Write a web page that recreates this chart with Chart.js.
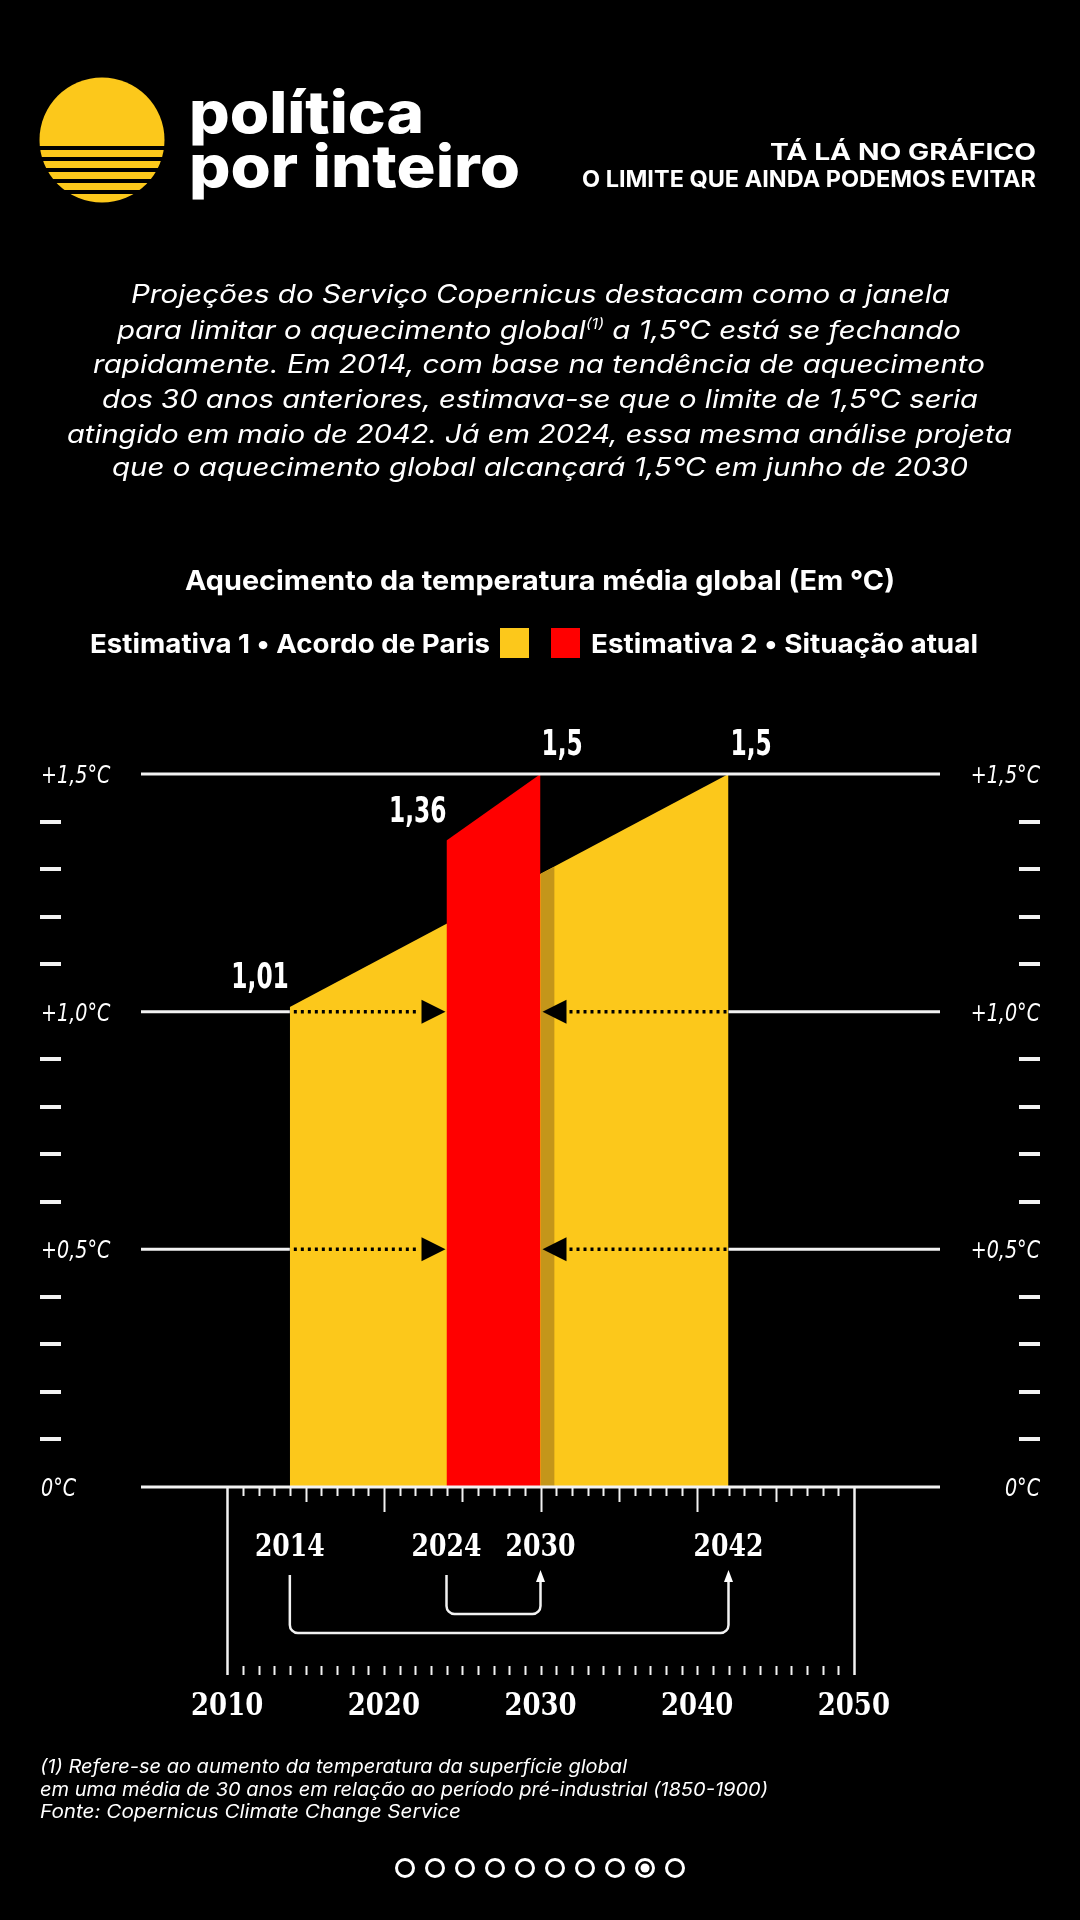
<!DOCTYPE html>
<html lang="pt-BR">
<head>
<meta charset="utf-8">
<title>O limite que ainda podemos evitar</title>
<script src="https://cdn.jsdelivr.net/npm/chart.js@4.4.1/dist/chart.umd.min.js"></script>
<style>
  html, body { margin: 0; padding: 0; background: #000; }
  body { width: 1080px; height: 1920px; position: relative; overflow: hidden; }
  #chart { position: absolute; left: 0; top: 0; }
  #overlay { position: absolute; left: 0; top: 0; pointer-events: none; }
  #overlay text { fill: #fff; font-family: Inter, "Noto Sans", sans-serif; }
</style>
</head>
<body>
<canvas id="chart" width="1080" height="1920"></canvas>

<svg id="overlay" width="1080" height="1920" viewBox="0 0 1080 1920">
  <!-- logo -->
  <defs>
    <clipPath id="sun"><circle cx="102" cy="140" r="62.5"/></clipPath>
  </defs>
  <g clip-path="url(#sun)" fill="#FCC81B">
    <rect x="38" y="76" width="130" height="70"/>
    <rect x="38" y="150" width="130" height="7"/>
    <rect x="38" y="161" width="130" height="7"/>
    <rect x="38" y="172" width="130" height="7"/>
    <rect x="38" y="183" width="130" height="7"/>
    <rect x="38" y="194" width="130" height="10"/>
  </g>
  <text x="189" y="133" font-size="58" font-weight="800" textLength="235" lengthAdjust="spacingAndGlyphs">política</text>
  <text x="189" y="187" font-size="58" font-weight="800" textLength="331" lengthAdjust="spacingAndGlyphs">por inteiro</text>

  <text x="770" y="160" font-size="23" font-weight="700" textLength="266" lengthAdjust="spacingAndGlyphs">TÁ LÁ NO GRÁFICO</text>
  <text x="582" y="187" font-size="23" font-weight="700" textLength="454" lengthAdjust="spacingAndGlyphs">O LIMITE QUE AINDA PODEMOS EVITAR</text>

  <!-- intro -->
  <g font-size="25.5" font-style="italic">
    <text x="131" y="303" textLength="819" lengthAdjust="spacingAndGlyphs">Projeções do Serviço Copernicus destacam como a janela</text>
    <text x="117" y="339" textLength="844" lengthAdjust="spacingAndGlyphs">para limitar o aquecimento global<tspan font-size="14" dy="-10">(1)</tspan><tspan dy="10"> a 1,5°C está se fechando</tspan></text>
    <text x="93" y="373" textLength="892" lengthAdjust="spacingAndGlyphs">rapidamente. Em 2014, com base na tendência de aquecimento</text>
    <text x="102" y="408" textLength="876" lengthAdjust="spacingAndGlyphs">dos 30 anos anteriores, estimava-se que o limite de 1,5°C seria</text>
    <text x="67" y="443" textLength="945" lengthAdjust="spacingAndGlyphs">atingido em maio de 2042. Já em 2024, essa mesma análise projeta</text>
    <text x="112" y="476" textLength="856" lengthAdjust="spacingAndGlyphs">que o aquecimento global alcançará 1,5°C em junho de 2030</text>
  </g>

  <!-- footnote -->
  <g font-size="18.5" font-style="italic">
    <text x="40" y="1773" textLength="587" lengthAdjust="spacingAndGlyphs">(1) Refere-se ao aumento da temperatura da superfície global</text>
    <text x="40" y="1796" textLength="728" lengthAdjust="spacingAndGlyphs">em uma média de 30 anos em relação ao período pré-industrial (1850-1900)</text>
    <text x="40" y="1818" textLength="421" lengthAdjust="spacingAndGlyphs">Fonte: Copernicus Climate Change Service</text>
  </g>

  <!-- page dots -->
  <g id="dots" fill="none" stroke="#fff" stroke-width="3"></g>
</svg>

<script>
// chart values
const est1Years = [2014, 2042];
const est1Values = [1.01, 1.5];
const est2Years = [2024, 2030];
const est2Values = [1.36, 1.5];
// darker edge of the yellow area right after 2030
const shadeYears = [2030, 2030.9];
const shadeValues = [1.29, 1.305];

const est1Label = 'Estimativa 1 • Acordo de Paris';
const est2Label = 'Estimativa 2 • Situação atual';
const chartTitle = 'Aquecimento da temperatura média global (Em °C)';

const yTicks = [0, 0.5, 1.0, 1.5];
const yTickLabels = ['0°C', '+0,5°C', '+1,0°C', '+1,5°C'];
const arrowLevels = [0.5, 1.0];
const axisYears = [2010, 2020, 2030, 2040, 2050];
const markedYears = [2014, 2024, 2030, 2042];
const valueLabels = ['1,01', '1,36', '1,5', '1,5'];

const YELLOW = '#FCC81B';
const RED = '#FF0000';
const SHADE = '#C4961A';
const WHITE = '#F2F2F2';

const NARROW = '"Liberation Sans Narrow", "DejaVu Sans Condensed", sans-serif';
const SLAB = '"DejaVu Serif Condensed", "DejaVu Serif", serif';

// page indicator
const dotsG = document.getElementById('dots');
for (let i = 0; i < 10; i++) {
  const c = document.createElementNS('http://www.w3.org/2000/svg', 'circle');
  c.setAttribute('cx', 405 + i * 30);
  c.setAttribute('cy', 1868);
  c.setAttribute('r', 8.5);
  dotsG.appendChild(c);
  if (i === 8) {
    const f = document.createElementNS('http://www.w3.org/2000/svg', 'circle');
    f.setAttribute('cx', 405 + i * 30);
    f.setAttribute('cy', 1868);
    f.setAttribute('r', 4.5);
    f.setAttribute('fill', '#fff');
    f.setAttribute('stroke', 'none');
    dotsG.appendChild(f);
  }
}

const pts = (xs, ys) => xs.map((x, i) => ({ x: x, y: ys[i] }));

// draw text squeezed horizontally by sx
function squeezeText(ctx, text, x, y, align, sx) {
  const w = ctx.measureText(text).width * sx;
  const left = align === 'left' ? x : (align === 'right' ? x - w : x - w / 2);
  ctx.save();
  ctx.translate(left, y);
  ctx.scale(sx, 1);
  ctx.textAlign = 'left';
  ctx.fillText(text, 0, 0);
  ctx.restore();
  return w;
}

const decor = {
  id: 'decor',
  afterDatasetsDraw(chart) {
    const { ctx, chartArea: a, scales: { x, y } } = chart;
    const X = v => x.getPixelForValue(v);
    const Y = v => y.getPixelForValue(v);
    ctx.save();

    // horizontal reference lines
    ctx.strokeStyle = WHITE;
    ctx.lineWidth = 3;
    yTicks.forEach(v => {
      const py = Y(v);
      ctx.beginPath();
      if (arrowLevels.includes(v)) {
        ctx.moveTo(a.left, py); ctx.lineTo(X(est1Years[0]), py);
        ctx.moveTo(X(est1Years[1]), py); ctx.lineTo(a.right, py);
      } else {
        ctx.moveTo(a.left, py); ctx.lineTo(a.right, py);
      }
      ctx.stroke();
    });

    // dotted arrows inside the yellow area
    arrowLevels.forEach(v => {
      const py = Y(v);
      const xa = X(est1Years[0]), xb = X(est2Years[0]);
      const xc = X(est2Years[1]), xd = X(est1Years[1]);
      ctx.strokeStyle = '#000';
      ctx.lineWidth = 3.5;
      ctx.setLineDash([3, 4]);
      ctx.beginPath();
      ctx.moveTo(xa + 4, py); ctx.lineTo(xb - 27, py);
      ctx.moveTo(xc + 29, py); ctx.lineTo(xd - 1, py);
      ctx.stroke();
      ctx.setLineDash([]);
      ctx.fillStyle = '#000';
      ctx.beginPath();
      ctx.moveTo(xb - 1, py); ctx.lineTo(xb - 25, py - 12); ctx.lineTo(xb - 25, py + 12);
      ctx.closePath(); ctx.fill();
      ctx.beginPath();
      ctx.moveTo(xc + 2, py); ctx.lineTo(xc + 26, py - 12); ctx.lineTo(xc + 26, py + 12);
      ctx.closePath(); ctx.fill();
    });

    // minor dashes on both sides
    ctx.fillStyle = WHITE;
    for (let i = 1; i < 15; i++) {
      if (i % 5 === 0) continue;
      const py = Math.round(Y(i / 10));
      ctx.fillRect(40, py - 2, 21, 4);
      ctx.fillRect(1019, py - 2, 21, 4);
    }

    // y labels
    ctx.fillStyle = '#fff';
    ctx.font = 'italic 25px ' + NARROW;
    ctx.textBaseline = 'alphabetic';
    yTicks.forEach((v, i) => {
      const py = Y(v) + 9;
      squeezeText(ctx, yTickLabels[i], 41, py, 'left', 0.85);
      squeezeText(ctx, yTickLabels[i], 1040, py, 'right', 0.85);
    });

    // value labels
    ctx.font = 'bold 35px ' + NARROW;
    const labelPts = [
      [est1Years[0], est1Values[0], 'right', -1],
      [est2Years[0], est2Values[0], 'right', 0],
      [est2Years[1], est2Values[1], 'left', 1],
      [est1Years[1], est1Values[1], 'left', 2]
    ];
    labelPts.forEach((p, i) => {
      squeezeText(ctx, valueLabels[i], X(p[0]) + p[3], Y(p[1]) - 19, p[2], 0.74);
    });

    // year ruler
    const base = Y(0);
    ctx.strokeStyle = WHITE;
    ctx.lineWidth = 2;
    for (let yr = axisYears[0] + 1; yr < axisYears[axisYears.length - 1]; yr++) {
      const px = Math.round(X(yr)) + 0.5;
      const len = yr % 10 === 0 ? 25 : (yr % 5 === 0 ? 15 : 9);
      ctx.beginPath();
      ctx.moveTo(px, base); ctx.lineTo(px, base + len);
      ctx.moveTo(px, base + 179); ctx.lineTo(px, base + 188);
      ctx.stroke();
    }
    ctx.lineWidth = 2.5;
    [axisYears[0], axisYears[axisYears.length - 1]].forEach(yr => {
      const px = Math.round(X(yr)) + 0.5;
      ctx.beginPath();
      ctx.moveTo(px, base); ctx.lineTo(px, base + 188);
      ctx.stroke();
    });

    ctx.fillStyle = '#fff';
    ctx.font = 'bold 31px ' + SLAB;
    axisYears.forEach(yr => squeezeText(ctx, String(yr), X(yr), base + 228, 'center', 0.93));
    markedYears.forEach(yr => squeezeText(ctx, String(yr), X(yr), base + 69, 'center', 0.9));

    // brackets from start years to limit years
    const bracket = (x1, x2, yBot) => {
      const r = 8, top = base + 88, tip = base + 83;
      ctx.beginPath();
      ctx.moveTo(x1, top);
      ctx.lineTo(x1, yBot - r);
      ctx.arcTo(x1, yBot, x1 + r, yBot, r);
      ctx.lineTo(x2 - r, yBot);
      ctx.arcTo(x2, yBot, x2, yBot - r, r);
      ctx.lineTo(x2, tip + 10);
      ctx.stroke();
      ctx.beginPath();
      ctx.moveTo(x2, tip); ctx.lineTo(x2 - 4.5, tip + 12); ctx.lineTo(x2 + 4.5, tip + 12);
      ctx.closePath(); ctx.fill();
    };
    ctx.lineWidth = 2.5;
    bracket(X(est1Years[0]), X(est1Years[1]), base + 146);
    bracket(X(est2Years[0]), X(est2Years[1]), base + 127);

    ctx.restore();
  },
  afterDraw(chart) {
    const { ctx } = chart;
    ctx.save();
    ctx.fillStyle = '#fff';
    ctx.textBaseline = 'alphabetic';
    ctx.font = 'bold 27px Inter, sans-serif';
    const tw = ctx.measureText(chartTitle).width;
    squeezeText(ctx, chartTitle, 540, 590, 'center', 710 / tw);

    // legend: text, swatch, swatch, text
    ctx.font = 'bold 26px Inter, sans-serif';
    const m1 = ctx.measureText(est1Label).width;
    const m2 = ctx.measureText(est2Label).width;
    let cx = 90;
    squeezeText(ctx, est1Label, cx, 653, 'left', 400 / m1);
    ctx.fillStyle = YELLOW;
    ctx.fillRect(500, 628, 29, 30);
    ctx.fillStyle = RED;
    ctx.fillRect(551, 628, 29, 30);
    ctx.fillStyle = '#fff';
    squeezeText(ctx, est2Label, 591, 653, 'left', 387 / m2);
    ctx.restore();
  }
};

new Chart(document.getElementById('chart'), {
  type: 'line',
  data: {
    datasets: [
      { label: est2Label, data: pts(est2Years, est2Values), backgroundColor: RED, fill: 'origin', order: 0 },
      { label: 'sombra', data: pts(shadeYears, shadeValues), backgroundColor: SHADE, fill: 'origin', order: 1 },
      { label: est1Label, data: pts(est1Years, est1Values), backgroundColor: YELLOW, fill: 'origin', order: 2 }
    ]
  },
  options: {
    responsive: false,
    animation: false,
    devicePixelRatio: 1,
    layout: { padding: { top: 774, bottom: 433, left: 141, right: 140 } },
    elements: {
      line: { borderWidth: 0, borderColor: 'rgba(0,0,0,0)', tension: 0 },
      point: { radius: 0, hoverRadius: 0 }
    },
    scales: {
      x: { type: 'linear', min: 2004.5, max: 2055.5, display: false },
      y: { min: 0, max: 1.5, display: false }
    },
    plugins: {
      legend: { display: false },
      tooltip: { enabled: false },
      title: { display: false }
    }
  },
  plugins: [decor]
});
</script>
</body>
</html>
